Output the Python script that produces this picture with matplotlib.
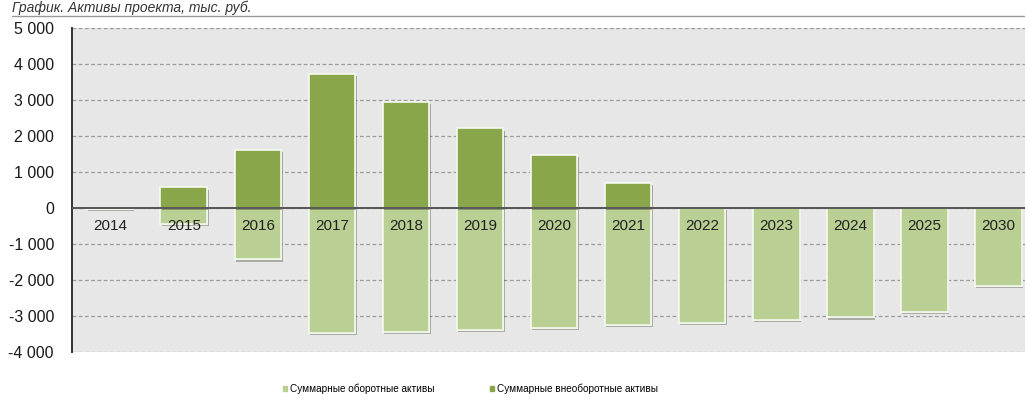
import numpy as np
import matplotlib.pyplot as plt
import matplotlib.patheffects as pe
from matplotlib.patches import Patch
from matplotlib.ticker import FuncFormatter

plt.rcParams['font.family'] = ['Liberation Sans', 'DejaVu Sans']

# данные (тыс. руб.)
years = ["2014", "2015", "2016", "2017", "2018", "2019", "2020",
         "2021", "2022", "2023", "2024", "2025", "2030"]
oborotnye = [-30, -440, -1430, -3480, -3450, -3400, -3330,
             -3250, -3190, -3110, -3040, -2900, -2170]
vneoborotnye = [0, 570, 1600, 3720, 2950, 2210, 1470,
                700, 0, 0, 0, 0, 0]

c_light = "#b9cf94"
c_dark = "#8aa64a"

fig = plt.figure(figsize=(10.25, 4.16), dpi=100)
ax = fig.add_axes([72/1025, 64/416, 1 - 72/1025, 324/416])
ax.set_facecolor("#e7e7e7")

x = np.arange(len(years))
shadow = [pe.withSimplePatchShadow(offset=(1, -1.5), alpha=0.35), pe.Normal()]

b1 = ax.bar(x, oborotnye, width=0.63, color=c_light, edgecolor="#f4f7ee",
            linewidth=1.2, zorder=3)
b2 = ax.bar(x, vneoborotnye, width=0.63, color=c_dark, edgecolor="#f4f7ee",
            linewidth=1.2, zorder=3)
for b in list(b1) + list(b2):
    if b.get_height() != 0:
        b.set_path_effects(shadow)

ax.axhline(0, color="#555555", linewidth=1.4, zorder=4)

for i, y in enumerate(years):
    ax.text(i, -500, y, ha="center", va="center", fontsize=11,
            color="#222222", zorder=5)

ax.set_xlim(-0.51, 12.36)
ax.set_ylim(-4000, 5000)
ax.set_yticks(np.arange(-4000, 5001, 1000))
ax.yaxis.set_major_formatter(FuncFormatter(
    lambda v, p: f"{int(v):,}".replace(",", " ")))
ax.tick_params(axis="y", length=0, labelsize=11.5, pad=13, colors="#1a1a1a")
ax.set_xticks([])

ax.grid(axis="y", linestyle=(0, (3, 2)), color="#9a9a9a", linewidth=0.9,
        zorder=1)
for s in ["top", "right", "bottom"]:
    ax.spines[s].set_visible(False)
ax.spines["left"].set_color("#333333")
ax.spines["left"].set_linewidth(1.4)

# заголовок
fig.text(0.012, 1 - 12/416, "График. Активы проекта, тыс. руб.",
         fontsize=10, style="italic", color="#333333", va="baseline")
fig.add_artist(plt.Line2D([12/1025, 1], [1 - 16/416, 1 - 16/416],
                          color="#999999", linewidth=1))

handles = [Patch(color=c_light, label="Суммарные оборотные активы"),
           Patch(color=c_dark, label="Суммарные внеоборотные активы")]
fig.legend(handles=handles, loc="center", bbox_to_anchor=(0.459, 1 - 389/416),
           ncol=2, frameon=False, fontsize=7.2, handlelength=0.4,
           handleheight=0.4, handletextpad=0.3, columnspacing=5.5)

fig.savefig("out.png", dpi=100, facecolor="white")
